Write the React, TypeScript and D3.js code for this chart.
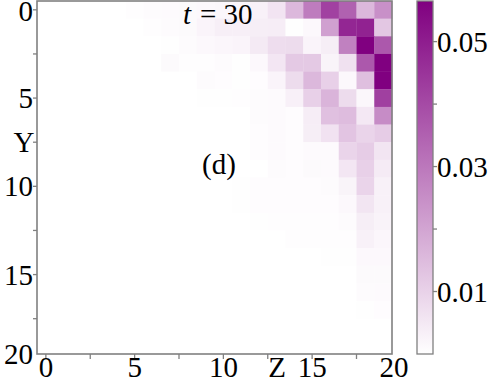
import React from "react";
import * as d3 from "d3";

// Heatmap values: rows = Y (0..19), columns = Z (0..19)
const row0 = [0, 0, 0, 0, 0, 0.0005, 0.0009, 0.001, 0.0012, 0.0015, 0.0017, 0.002, 0.003, 0.006, 0.0157, 0.029, 0.042, 0.035, 0.0157, 0.0246];
const row1 = [0, 0, 0, 0, 0, 0, 0.0005, 0.0009, 0.0012, 0.0024, 0.0035, 0.0035, 0.0038, 0.004, 0.0003, 0.0015, 0.021, 0.048, 0.049, 0.0125];
const row2 = [0, 0, 0, 0, 0, 0, 0, 0.0003, 0.0009, 0.0015, 0.002, 0.0024, 0.0047, 0.0075, 0.0078, 0.0024, 0.0038, 0.028, 0.0565, 0.037];
const row3 = [0, 0, 0, 0, 0, 0, 0, 0.0012, 0.0005, 0.0005, 0.0009, 0.0003, 0.0015, 0.0055, 0.012, 0.012, 0.0025, 0.0067, 0.037, 0.0565];
const row4 = [0, 0, 0, 0, 0, 0, 0, 0, 0, 0.0008, 0.0006, 0.0003, 0.0006, 0.0024, 0.0078, 0.0157, 0.0104, 0.0015, 0.0142, 0.0565];
const row5 = [0, 0, 0, 0, 0, 0, 0, 0, 0, 0.0003, 0.0003, 0.0005, 0.0008, 0.001, 0.0033, 0.0104, 0.0166, 0.0078, 0.0018, 0.0423];
const row6 = [0, 0, 0, 0, 0, 0, 0, 0, 0, 0, 0, 0, 0.0008, 0.001, 0.0006, 0.004, 0.014, 0.0148, 0.005, 0.0255];
const row7 = [0, 0, 0, 0, 0, 0, 0, 0, 0, 0, 0, 0, 0.0006, 0.001, 0.0006, 0.0038, 0.0064, 0.013, 0.0095, 0.0113];
const row8 = [0, 0, 0, 0, 0, 0, 0, 0, 0, 0, 0, 0, 0.0006, 0.001, 0.0006, 0.001, 0.001, 0.0095, 0.0113, 0.0057];
const row9 = [0, 0, 0, 0, 0, 0, 0, 0, 0, 0, 0, 0, 0, 0.0008, 0.0006, 0.0012, 0.001, 0.0055, 0.0104, 0.0045];
const row10 = [0, 0, 0, 0, 0, 0, 0, 0, 0, 0, 0, 0.0003, 0.0006, 0.0006, 0.0006, 0.0006, 0.0008, 0.0025, 0.0095, 0.003];
const row11 = [0, 0, 0, 0, 0, 0, 0, 0, 0, 0, 0, 0.0003, 0.0006, 0.0006, 0.0006, 0.0006, 0.0006, 0.0015, 0.0057, 0.003];
const row12 = [0, 0, 0, 0, 0, 0, 0, 0, 0, 0, 0, 0, 0.0003, 0.0005, 0.0005, 0.0005, 0.0005, 0.0009, 0.0038, 0.0027];
const row13 = [0, 0, 0, 0, 0, 0, 0, 0, 0, 0, 0, 0, 0, 0, 0.0005, 0.0005, 0.0005, 0.0004, 0.003, 0.002];
const row14 = [0, 0, 0, 0, 0, 0, 0, 0, 0, 0, 0, 0, 0, 0, 0, 0, 0.0003, 0.0003, 0.0015, 0.0015];
const row15 = [0, 0, 0, 0, 0, 0, 0, 0, 0, 0, 0, 0, 0, 0, 0, 0, 0, 0, 0.0012, 0.0012];
const row16 = [0, 0, 0, 0, 0, 0, 0, 0, 0, 0, 0, 0, 0, 0, 0, 0, 0, 0, 0.0008, 0.001];
const row17 = [0, 0, 0, 0, 0, 0, 0, 0, 0, 0, 0, 0, 0, 0, 0, 0, 0, 0, 0.0003, 0.0006];
const row18 = [0, 0, 0, 0, 0, 0, 0, 0, 0, 0, 0, 0, 0, 0, 0, 0, 0, 0, 0, 0];
const row19 = [0, 0, 0, 0, 0, 0, 0, 0, 0, 0, 0, 0, 0, 0, 0, 0, 0, 0, 0, 0];
const grid = [row0, row1, row2, row3, row4, row5, row6, row7, row8, row9, row10, row11, row12, row13, row14, row15, row16, row17, row18, row19];

const majorTicks = [0, 5, 10, 15];
const minorTicks = [2.5, 7.5, 12.5, 17.5];
const endTickLabel = "20";
const cbMajor = [0.01, 0.03, 0.05];
const cbMinor = [0.02, 0.04];
const vMax = 0.0565;
const titleText = "30";
const panelLabel = "(d)";

const FONT = "'Liberation Serif', 'DejaVu Serif', serif";
const AX = "#808080";

export default function App() {
  const left = 37, right = 392, top = 1, bottom = 354;
  const x = d3.scaleLinear().domain([-0.5, 19.5]).range([left, right]);
  const y = d3.scaleLinear().domain([-0.5, 19.5]).range([top, bottom]);
  const color = d3.scaleLinear<string>().domain([0, vMax]).range(["#ffffff", "#800080"]).interpolate(d3.interpolateRgb).clamp(true);
  const cbL = 417, cbR = 433;
  const cy = d3.scaleLinear().domain([0, vMax]).range([bottom, top]);
  const fs = 29;

  const cells: React.ReactNode[] = [];
  grid.forEach((row, i) =>
    row.forEach((v, j) => {
      cells.push(
        <rect key={`${i}-${j}`} x={x(j - 0.5)} y={y(i - 0.5)} width={x(j + 0.5) - x(j - 0.5) + 0.3} height={y(i + 0.5) - y(i - 0.5) + 0.3} fill={color(v)} />
      );
    })
  );

  return (
    <svg width={494} height={381} style={{ position: "absolute", left: 0, top: 0 }} fontFamily={FONT}>
      <defs>
        <linearGradient id="cb" x1="0" y1="1" x2="0" y2="0">
          <stop offset="0%" stopColor={color(0)} />
          <stop offset="100%" stopColor={color(vMax)} />
        </linearGradient>
      </defs>
      <rect x={0} y={0} width={494} height={381} fill="#fff" />
      {cells}
      {/* title and panel label */}
      <text x={183} y={24} fontSize={fs} fontStyle="italic">t</text>
      <text x={200} y={24} fontSize={fs}>= {titleText}</text>
      <text x={202} y={174} fontSize={fs}>{panelLabel}</text>
      {/* frame */}
      <rect x={left} y={top} width={right - left} height={bottom - top} fill="none" stroke={AX} strokeWidth={1.6} />
      {/* y ticks */}
      {majorTicks.concat(minorTicks).map((t) => (
        <line key={`yt${t}`} x1={left - 4} x2={left} y1={y(t)} y2={y(t)} stroke={AX} strokeWidth={1.3} />
      ))}
      {majorTicks.map((t) => (
        <text key={`yl${t}`} x={33} y={t === 0 ? y(t) + 1 : y(t)} dy="0.35em" fontSize={fs} textAnchor="end">{t}</text>
      ))}
      <text x={33} y={bottom} dy="0.35em" fontSize={fs} textAnchor="end">{endTickLabel}</text>
      <text x={24} y={y(7.5)} dy="0.35em" fontSize={fs} textAnchor="middle">Y</text>
      {/* x ticks */}
      {majorTicks.concat(minorTicks).map((t) => (
        <line key={`xt${t}`} x1={x(t)} x2={x(t)} y1={bottom} y2={bottom + 5} stroke={AX} strokeWidth={1.3} />
      ))}
      {majorTicks.map((t) => (
        <text key={`xl${t}`} x={x(t)} y={377} fontSize={fs} textAnchor="middle">{t}</text>
      ))}
      <text x={right + 2} y={377} fontSize={fs} textAnchor="middle">{endTickLabel}</text>
      <text x={277} y={377} fontSize={fs} textAnchor="middle">Z</text>
      {/* colorbar */}
      <rect x={cbL} y={top} width={cbR - cbL} height={bottom - top} fill="url(#cb)" stroke={AX} strokeWidth={1.3} />
      {cbMajor.concat(cbMinor).map((t) => (
        <line key={`ct${t}`} x1={cbR} x2={cbR + 4} y1={cy(t)} y2={cy(t)} stroke={AX} strokeWidth={1.3} />
      ))}
      {cbMajor.map((t) => (
        <text key={`cl${t}`} x={437} y={cy(t)} dy="0.35em" fontSize={fs}>{d3.format(".2f")(t)}</text>
      ))}
    </svg>
  );
}
